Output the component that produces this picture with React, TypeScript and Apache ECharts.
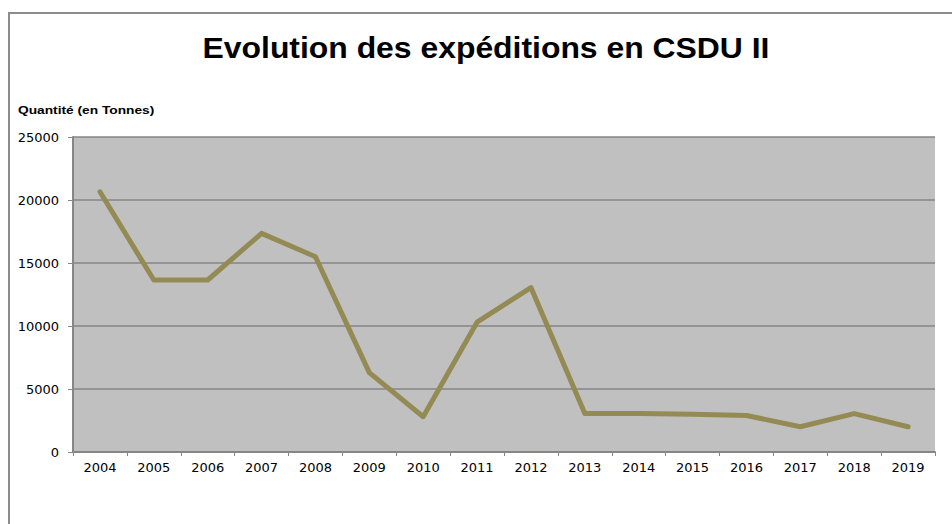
import React, { useEffect, useRef } from "react";
import * as echarts from "echarts";

const years = ["2004", "2005", "2006", "2007", "2008", "2009", "2010", "2011", "2012", "2013", "2014", "2015", "2016", "2017", "2018", "2019"];
const quantities = [20650, 13650, 13650, 17350, 15500, 6300, 2800, 10300, 13050, 3050, 3050, 3000, 2900, 2000, 3050, 2000];
const titleText = "Evolution des expéditions en CSDU II";
const yAxisTitle = "Quantité (en Tonnes)";

export default function App() {
  const ref = useRef<HTMLDivElement>(null);
  useEffect(() => {
    document.body.style.margin = "0";
    if (!ref.current) return;
    const chart = echarts.init(ref.current, null, { renderer: "svg" });
    chart.setOption({
      animation: false,
      backgroundColor: "#ffffff",
      textStyle: { fontFamily: "DejaVu Sans, sans-serif" },
      graphic: [
        {
          type: "rect",
          shape: { x: 9, y: 13, width: 1000, height: 600 },
          style: { fill: "none", stroke: "#8c8c8c", lineWidth: 2 },
          silent: true,
          z: 0,
        },
        {
          type: "text",
          x: 486,
          y: 48,
          scaleX: 1.1,
          style: {
            text: titleText,
            fontSize: 29,
            fontWeight: "bold",
            fontFamily: "Liberation Sans, Arial, sans-serif",
            fill: "#000000",
            align: "center",
            verticalAlign: "middle",
          },
        },
        {
          type: "text",
          x: 18,
          y: 110,
          scaleX: 1.25,
          style: {
            text: yAxisTitle,
            fontSize: 11,
            fontWeight: "bold",
            fontFamily: "Liberation Sans, Arial, sans-serif",
            fill: "#000000",
            align: "left",
            verticalAlign: "middle",
          },
        },
      ],
      grid: {
        left: 73,
        right: 17,
        top: 137,
        bottom: 72,
        show: true,
        backgroundColor: "#c0c0c0",
        borderWidth: 0,
      },
      xAxis: {
        type: "category",
        data: years,
        boundaryGap: true,
        axisLine: { show: true, lineStyle: { color: "#868686", width: 2 } },
        axisTick: { show: true, length: 4, interval: 0, lineStyle: { color: "#868686", width: 1 } },
        axisLabel: { color: "#000000", fontSize: 13, margin: 9, interval: 0, fontFamily: "DejaVu Sans, sans-serif" },
      },
      yAxis: {
        type: "value",
        min: 0,
        max: 25000,
        interval: 5000,
        axisLine: { show: true, lineStyle: { color: "#868686", width: 2 } },
        axisTick: { show: true, length: 5, lineStyle: { color: "#868686", width: 1 } },
        axisLabel: {
          color: "#000000",
          fontSize: 13,
          margin: 14,
          fontFamily: "DejaVu Sans, sans-serif",
          formatter: (v: number) => String(v),
        },
        splitLine: { show: true, lineStyle: { color: "#868686", width: 1.5 } },
      },
      series: [
        {
          type: "line",
          data: quantities,
          showSymbol: false,
          symbol: "none",
          lineStyle: { color: "#948a54", width: 5, cap: "round", join: "round" },
          itemStyle: { color: "#948a54" },
        },
      ],
    });
    return () => chart.dispose();
  }, []);
  return <div ref={ref} style={{ width: 952, height: 524 }} />;
}
